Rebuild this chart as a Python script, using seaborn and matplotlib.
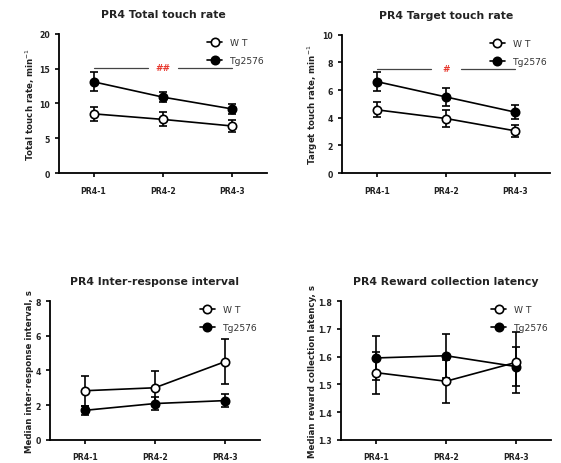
import numpy as np
import pandas as pd
import seaborn as sns
from matplotlib import pyplot as plt
from matplotlib.lines import Line2D

sessions = ["PR4-1", "PR4-2", "PR4-3"]
groups = ["WT", "Tg2576"]

# mean and SEM
total_wt = [8.5, 7.7, 6.75]
total_wt_err = [1.0, 1.0, 0.8]
total_tg = [13.1, 10.9, 9.2]
total_tg_err = [1.35, 0.7, 0.7]

target_wt = [4.57, 3.94, 3.05]
target_wt_err = [0.55, 0.63, 0.42]
target_tg = [6.61, 5.5, 4.4]
target_tg_err = [0.7, 0.62, 0.53]

iri_wt = [2.83, 3.0, 4.5]
iri_wt_err = [0.86, 0.96, 1.3]
iri_tg = [1.7, 2.09, 2.26]
iri_tg_err = [0.25, 0.37, 0.39]

rcl_wt = [1.542, 1.511, 1.579]
rcl_wt_err = [0.076, 0.077, 0.11]
rcl_tg = [1.595, 1.603, 1.564]
rcl_tg_err = [0.08, 0.079, 0.07]

sns.set_style("ticks")
plt.rcParams['font.family'] = ['DejaVu Sans']

fig = plt.figure(figsize=(5.61, 4.64), dpi=100)

panels = [
    dict(pos=[0.105, 0.625, 0.371, 0.300], title="PR4 Total touch rate",
         ylabel="Total touch rate, min$^{-1}$", ylim=(0, 20), yticks=[0, 5, 10, 15, 20],
         wt=total_wt, wte=total_wt_err, tg=total_tg, tge=total_tg_err,
         sig="##", sig_y=15.1, ylab_x=-0.105),
    dict(pos=[0.610, 0.625, 0.370, 0.298], title="PR4 Target touch rate",
         ylabel="Target touch rate, min$^{-1}$", ylim=(0, 10), yticks=[0, 2, 4, 6, 8, 10],
         wt=target_wt, wte=target_wt_err, tg=target_tg, tge=target_tg_err,
         sig="#", sig_y=7.55, ylab_x=-0.105),
    dict(pos=[0.089, 0.050, 0.374, 0.299], title="PR4 Inter-response interval",
         ylabel="Median inter-response interval, s", ylim=(0, 8), yticks=[0, 2, 4, 6, 8],
         wt=iri_wt, wte=iri_wt_err, tg=iri_tg, tge=iri_tg_err,
         sig=None, sig_y=None, ylab_x=-0.078),
    dict(pos=[0.608, 0.050, 0.374, 0.299], title="PR4 Reward collection latency",
         ylabel="Median reward collection latency, s", ylim=(1.3, 1.8),
         yticks=[1.3, 1.4, 1.5, 1.6, 1.7, 1.8],
         wt=rcl_wt, wte=rcl_wt_err, tg=rcl_tg, tge=rcl_tg_err,
         sig=None, sig_y=None, ylab_x=-0.115),
]

for p in panels:
    ax = fig.add_axes(p["pos"])
    df = pd.DataFrame({
        "session": sessions * 2,
        "group": [groups[0]] * 3 + [groups[1]] * 3,
        "value": p["wt"] + p["tg"],
        "err": p["wte"] + p["tge"],
    })
    x = np.arange(len(sessions))
    for g, face, z in [("Tg2576", "black", 3), ("WT", "white", 4)]:
        sub = df[df.group == g]
        ax.errorbar(x, sub.value, yerr=sub.err, fmt="none", ecolor="black",
                    elinewidth=1.2, capsize=3, capthick=1.2, zorder=z - 1)
        sns.lineplot(data=sub, x="session", y="value", ax=ax, color="black",
                     linewidth=1.2, marker="o", markersize=6,
                     markerfacecolor=face, markeredgecolor="black",
                     markeredgewidth=1.2, zorder=z, errorbar=None)

    if p["sig"]:
        ax.plot([0, 0.78], [p["sig_y"]] * 2, color="#444444", lw=0.9)
        ax.plot([1.22, 2.0], [p["sig_y"]] * 2, color="#444444", lw=0.9)
        ax.text(1, p["sig_y"], p["sig"], color="#e8392f", fontsize=6.5,
                fontweight="bold", ha="center", va="center")

    ax.set_xlim(-0.5, 2.5)
    ax.set_ylim(*p["ylim"])
    ax.set_yticks(p["yticks"])
    ax.set_yticklabels([f"{t:g}" for t in p["yticks"]])
    ax.set_xticks(x)
    ax.set_xticklabels(sessions)
    ax.set_xlabel("")
    ax.set_ylabel(p["ylabel"], fontsize=6.2, fontweight="bold", color="#222222")
    ax.yaxis.set_label_coords(p["ylab_x"], 0.5)
    ax.set_title(p["title"], fontsize=7.8, fontweight="bold", pad=12, color="#222222")
    ax.tick_params(axis="both", labelsize=5.6, width=1.2, length=3, color="black",
                   labelcolor="#222222")
    ax.tick_params(axis="x", pad=6)
    for lab in ax.get_xticklabels() + ax.get_yticklabels():
        lab.set_fontweight("bold")
    for s in ["left", "bottom"]:
        ax.spines[s].set_linewidth(1.3)
        ax.spines[s].set_color("black")
    sns.despine(ax=ax)

    handles = [
        Line2D([], [], color="black", lw=1.2, marker="o", markersize=6,
               markerfacecolor="white", markeredgecolor="black", markeredgewidth=1.2),
        Line2D([], [], color="black", lw=1.2, marker="o", markersize=6,
               markerfacecolor="black", markeredgecolor="black", markeredgewidth=1.2),
    ]
    ax.legend(handles, ["W T", "Tg2576"], loc="upper right",
              bbox_to_anchor=(1.03, 1.03), frameon=False, fontsize=6.6,
              labelspacing=1.0, handlelength=1.6, handletextpad=0.9,
              labelcolor="#333333")

fig.savefig("out.png", dpi=100)
